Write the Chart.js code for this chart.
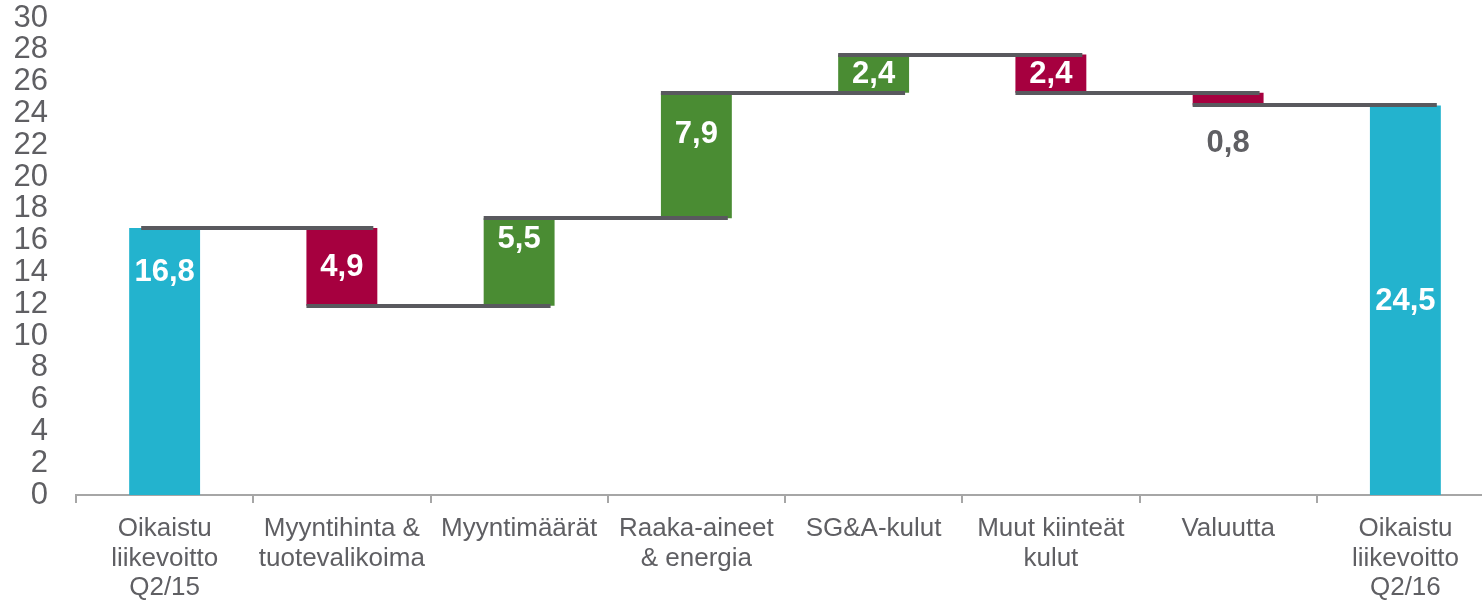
<!DOCTYPE html>
<html>
<head>
<meta charset="utf-8">
<script src="https://cdn.jsdelivr.net/npm/chart.js@4.4.1/dist/chart.umd.min.js"></script>
<style>
  html, body { margin: 0; padding: 0; background: #fff; overflow: hidden; }
  #wrap { width: 1494px; height: 602px; position: relative; }
</style>
</head>
<body>
<div id="wrap"><canvas id="myChart"></canvas></div>
<script>
// waterfall data
const categories = [
  ['Oikaistu', 'liikevoitto', 'Q2/15'],
  ['Myyntihinta &', 'tuotevalikoima'],
  ['Myyntimäärät'],
  ['Raaka-aineet', '& energia'],
  ['SG&A-kulut'],
  ['Muut kiinteät', 'kulut'],
  ['Valuutta'],
  ['Oikaistu', 'liikevoitto', 'Q2/16']
];
const changes = [16.8, -4.9, 5.5, 7.9, 2.4, -2.4, -0.8, 24.5];
const isTotal = [true, false, false, false, false, false, false, true];
const valueLabels = ['16,8', '4,9', '5,5', '7,9', '2,4', '2,4', '0,8', '24,5'];
const yTicks = [0, 2, 4, 6, 8, 10, 12, 14, 16, 18, 20, 22, 24, 26, 28, 30];

const CYAN = '#23B3CE', RED = '#A6003F', GREEN = '#4A8C33', GREY = '#59595E', TXT = '#5F5F63';

// floating ranges from running total
let run = 0;
const ranges = [];
const levels = [];
changes.forEach((c, i) => {
  if (isTotal[i]) {
    ranges.push([0, c]);
    run = c;
  } else {
    ranges.push([run, run + c]);
    run = run + c;
  }
  levels.push(run);
});
const colors = changes.map((c, i) => isTotal[i] ? CYAN : (c < 0 ? RED : GREEN));

// connectors + value labels
const waterfallPlugin = {
  id: 'waterfall',
  afterDatasetsDraw(chart) {
    const ctx = chart.ctx;
    const meta = chart.getDatasetMeta(0);
    const y = chart.scales.y;
    ctx.save();
    ctx.strokeStyle = GREY;
    ctx.lineWidth = 4;
    for (let i = 0; i < meta.data.length - 1; i++) {
      const a = meta.data[i], b = meta.data[i + 1];
      const yy = Math.round(y.getPixelForValue(levels[i]));
      ctx.beginPath();
      ctx.moveTo(a.x - a.width / 2 + (i === 0 ? 12 : 0), yy);
      ctx.lineTo(b.x + b.width / 2 - 4, yy);
      ctx.stroke();
    }
    // labels
    ctx.font = 'bold 31px "Liberation Sans", Arial, sans-serif';
    ctx.textAlign = 'center';
    ctx.textBaseline = 'middle';
    meta.data.forEach((bar, i) => {
      const top = Math.min(bar.y, bar.base);
      const bottom = Math.max(bar.y, bar.base);
      let ly = (top + bottom) / 2;
      let col = '#fff';
      if (i === 0) ly = top + 44;
      if (i === 2) ly = top + 20;
      if (i === 3) ly = top + 41;
      if (i === 6) { ly = bottom + 37; col = TXT; }
      ctx.fillStyle = col;
      ctx.fillText(valueLabels[i], bar.x, ly + 1);
    });
    ctx.restore();
  }
};

const ctx = document.getElementById('myChart').getContext('2d');
const myChart = new Chart(ctx, {
  type: 'bar',
  data: {
    labels: categories,
    datasets: [{
      data: ranges,
      backgroundColor: colors,
      borderWidth: 0,
      barPercentage: 1,
      categoryPercentage: 0.4
    }]
  },
  options: {
    responsive: true,
    maintainAspectRatio: false,
    animation: false,
    layout: { padding: { top: 18, right: 0, left: 0, bottom: 0 } },
    plugins: {
      legend: { display: false },
      tooltip: { enabled: false }
    },
    scales: {
      x: {
        offset: true,
        grid: { display: true, drawOnChartArea: false, offset: true, tickLength: 8, color: '#A6A6A6', lineWidth: 2 },
        border: { display: true, color: '#A6A6A6', width: 2 },
        ticks: {
          color: TXT,
          padding: 11,
          maxRotation: 0,
          autoSkip: false,
          font: { family: '"Liberation Sans", Arial, sans-serif', size: 26, lineHeight: 1.14 }
        },
        afterFit(scale) { scale.height = 107; scale.paddingLeft = 0; scale.paddingRight = 0; }
      },
      y: {
        min: 0,
        max: 30,
        afterBuildTicks(scale) { scale.ticks = yTicks.map(v => ({ value: v })); },
        grid: { display: false },
        border: { display: false },
        ticks: {
          color: TXT,
          padding: 20,
          autoSkip: false,
          font: { family: '"Liberation Sans", Arial, sans-serif', size: 31 }
        },
        afterFit(scale) { scale.width = 76; scale.paddingTop = 0; scale.paddingBottom = 0; }
      }
    }
  },
  plugins: [waterfallPlugin]
});
</script>
</body>
</html>
